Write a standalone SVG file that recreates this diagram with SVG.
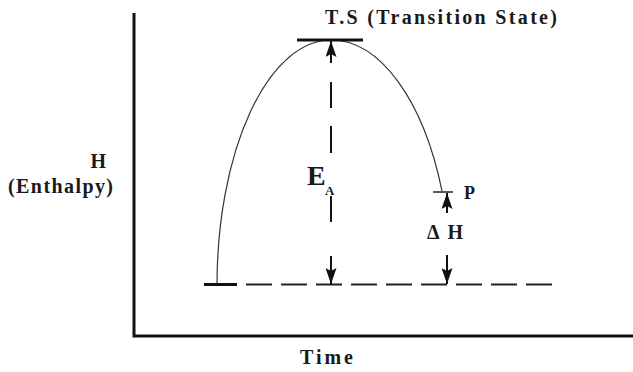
<svg xmlns="http://www.w3.org/2000/svg" width="633" height="372" viewBox="0 0 633 372">
<style>
  .lbl{font-family:"Liberation Serif","Times New Roman",serif;font-weight:bold;fill:#1a1a1a}
  .axis{stroke:#111;stroke-width:3;fill:none}
  .dash{stroke:#222;stroke-width:2;fill:none}
  .curve{stroke:#333;stroke-width:1.2;fill:none}
  .arrow{stroke:#111;stroke-width:2;fill:none}
</style>
<defs>
  <marker id="ah" viewBox="0 0 16 11" refX="16" refY="5.5" markerWidth="16" markerHeight="11" markerUnits="userSpaceOnUse" orient="auto">
    <path d="M0,0 L16,5.5 L0,11 L3,5.5 z" fill="#111"/>
  </marker>
</defs>
<rect width="633" height="372" fill="#fff"/>

<g id="axes">
  <path class="axis" d="M134,13 V336 H633"/>
</g>

<g id="curve">
  <path class="curve" d="M217,285 A114,245 0 0 1 331,40 A120,245 0 0 1 442,191"/>
</g>

<g id="reactants">
  <line x1="204" y1="284.5" x2="237" y2="284.5" stroke="#111" stroke-width="3"/>
  <line class="dash" x1="246" y1="284.5" x2="552" y2="284.5" stroke-dasharray="26 9"/>
</g>

<g id="transition-state">
  <line x1="297" y1="40" x2="363" y2="40" stroke="#111" stroke-width="3"/>
  <text class="lbl" x="325" y="24" font-size="20" textLength="232" lengthAdjust="spacing">T.S (Transition State)</text>
</g>

<g id="product">
  <line x1="433" y1="192" x2="453" y2="192" stroke="#222" stroke-width="1.5"/>
  <text class="lbl" x="464" y="199" font-size="18">P</text>
</g>

<g id="y-label">
  <text class="lbl" x="106" y="168" font-size="20" text-anchor="end">H</text>
  <text class="lbl" x="8" y="193" font-size="20" textLength="105" lengthAdjust="spacing">(Enthalpy)</text>
</g>

<g id="x-label">
  <text class="lbl" x="300" y="364" font-size="20" textLength="53" lengthAdjust="spacing">Time</text>
</g>

<g id="connectors">
  <line class="arrow" x1="331" y1="63" x2="331" y2="41" marker-end="url(#ah)"/>
  <path class="arrow" d="M331,82 V108 M331,126 V153 M331,196 V222"/>
  <line class="arrow" x1="331" y1="256" x2="331" y2="284" marker-end="url(#ah)"/>
  <line class="arrow" x1="447" y1="213" x2="447" y2="193" marker-end="url(#ah)"/>
  <line class="arrow" x1="447" y1="255" x2="447" y2="284" marker-end="url(#ah)"/>
</g>

<g id="ea-label">
  <text class="lbl" x="307" y="185" font-size="28">E</text>
  <text class="lbl" x="325" y="195" font-size="13">A</text>
</g>

<g id="dh-label">
  <text class="lbl" x="427" y="239" font-size="20" textLength="36" lengthAdjust="spacing">ΔH</text>
</g>
</svg>
